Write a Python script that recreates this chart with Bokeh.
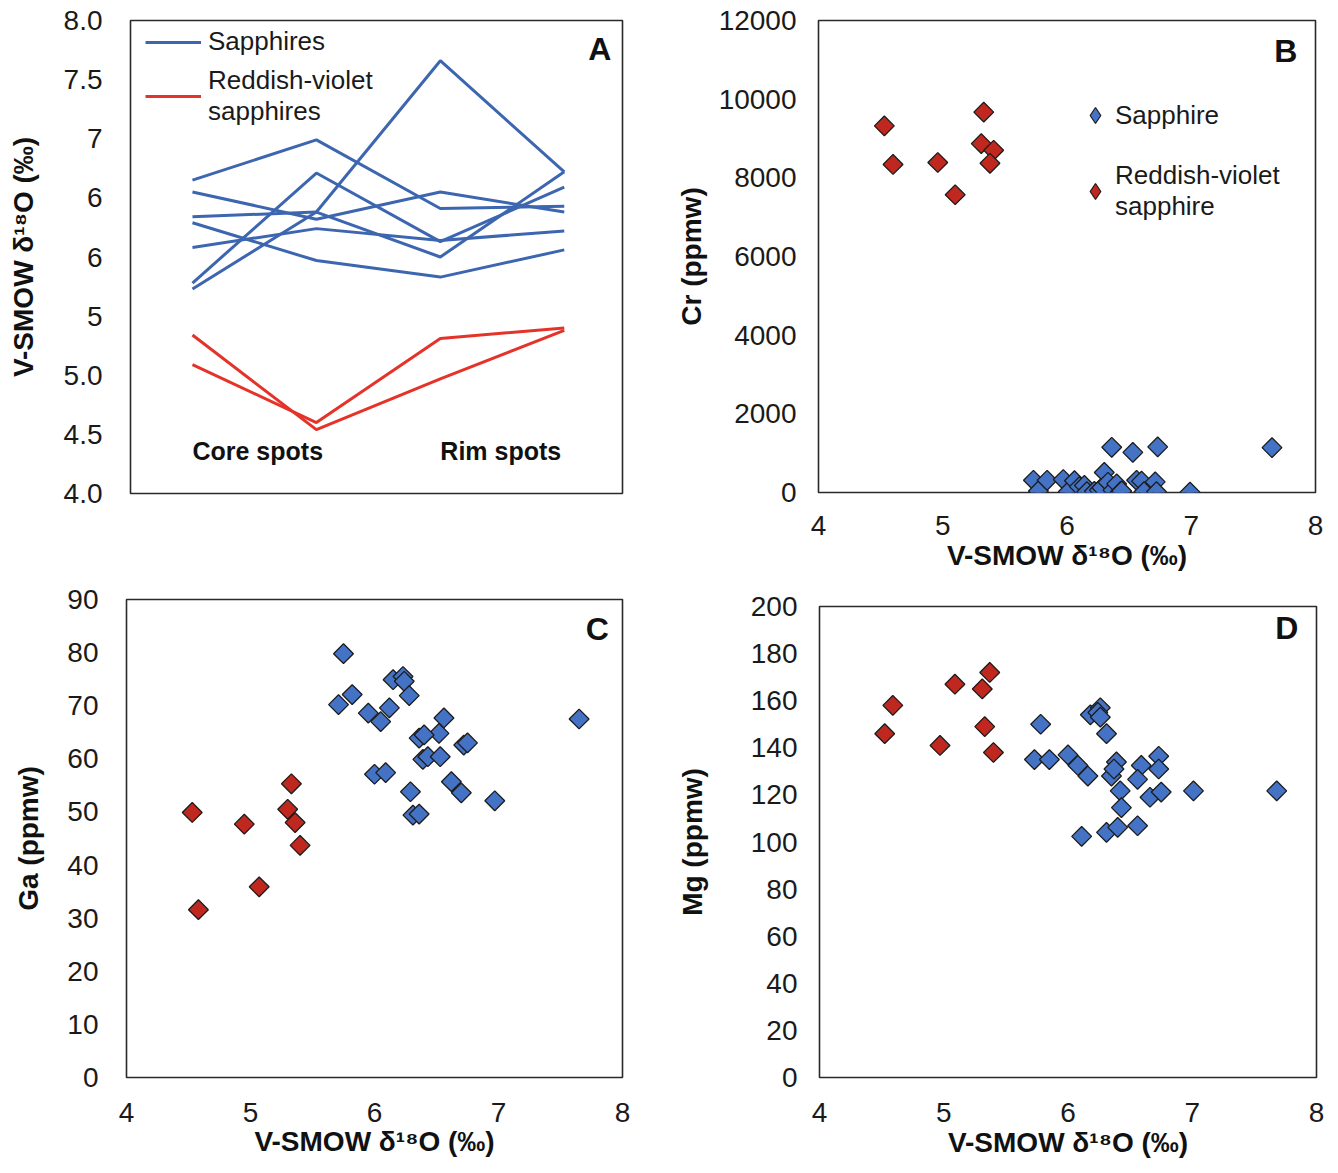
import math
from bokeh.plotting import figure
from bokeh.models import Range1d, FixedTicker, Legend, LegendItem, Label
from bokeh.layouts import row, column
from bokeh.embed import file_html
from bokeh.resources import INLINE
from bokeh.core.properties import value

FONT = "Liberation Sans"

# ---------------- Panel A data (core/rim oxygen isotope profiles) ----------------
spots = [1, 2, 3, 4]
spot_labels = ["Core spots", "Rim spots"]
spot_label_x = [1, 3]
spot_label_y = [4.36, 4.36]

sapphire_1 = [6.65, 6.99, 6.41, 6.43]
sapphire_2 = [6.55, 6.32, 6.55, 6.38]
sapphire_3 = [6.34, 6.38, 6.00, 6.72]
sapphire_4 = [6.29, 5.97, 5.83, 6.06]
sapphire_5 = [6.08, 6.24, 6.14, 6.22]
sapphire_6 = [5.78, 6.71, 6.13, 6.59]
sapphire_7 = [5.73, 6.38, 7.66, 6.72]
reddish_1 = [5.34, 4.54, 4.97, 5.38]
reddish_2 = [5.09, 4.60, 5.31, 5.40]

a_ticks = [4.0, 4.5, 5.0, 5.5, 6.0, 6.5, 7.0, 7.5, 8.0]
a_tick_labels = ["4.0", "4.5", "5.0", "5", "6", "6", "7", "7.5", "8.0"]

# ---------------- Panel B data (Cr) ----------------
b_sapph_d18O = [5.73, 5.77, 5.84, 5.97, 6.01, 6.06, 6.10, 6.14, 6.16, 6.22, 6.26, 6.28, 6.30, 6.33,
                6.36, 6.37, 6.40, 6.43, 6.44, 6.53, 6.56, 6.60, 6.62, 6.71, 6.72, 6.73, 6.99, 7.65]
b_sapph_cr = [310, 40, 310, 330, 20, 300, 150, 180, 20, 30, 60, 120, 510, 260,
              1150, 60, 220, 20, 40, 1020, 310, 290, 20, 270, 20, 1160, 10, 1140]
b_rv_d18O = [4.53, 4.60, 4.96, 5.10, 5.33, 5.31, 5.41, 5.38]
b_rv_cr = [9320, 8340, 8390, 7570, 9670, 8870, 8700, 8370]

# ---------------- Panel C data (Ga) ----------------
c_sapph_d18O = [5.75, 6.15, 6.23, 6.24, 6.28, 5.71, 5.82, 5.95, 6.12, 6.05, 6.56, 6.52, 6.36, 6.40,
                6.72, 6.75, 6.39, 6.43, 6.53, 6.00, 6.09, 6.29, 6.62, 6.70, 6.97, 6.31, 6.36, 7.65]
c_sapph_ga = [79.8, 74.9, 75.5, 74.6, 71.9, 70.2, 72.1, 68.6, 69.6, 67.0, 67.7, 64.8, 63.9, 64.5,
              62.6, 63.0, 59.9, 60.4, 60.4, 57.1, 57.4, 53.8, 55.7, 53.6, 52.1, 49.4, 49.6, 67.5]
c_rv_d18O = [4.53, 4.58, 4.95, 5.07, 5.33, 5.30, 5.36, 5.40]
c_rv_ga = [49.9, 31.6, 47.7, 35.9, 55.3, 50.5, 48.0, 43.7]

# ---------------- Panel D data (Mg) ----------------
d_sapph_d18O = [5.78, 6.18, 6.26, 6.24, 6.31, 5.73, 5.85, 6.00, 6.08, 6.16, 6.39, 6.35, 6.37, 6.59,
                6.56, 6.73, 6.73, 6.42, 6.66, 6.75, 7.01, 6.43, 6.11, 6.31, 6.40, 6.56, 7.68, 6.26]
d_sapph_mg = [150, 154, 157, 155, 146, 135, 135, 137, 132.5, 128, 134, 128, 131, 132.5,
              126.6, 136.4, 131, 121.7, 119, 121.2, 121.7, 114.6, 102.4, 104.1, 106.2, 106.9, 121.7, 153]
d_rv_d18O = [4.525, 4.59, 4.97, 5.09, 5.31, 5.37, 5.33, 5.40]
d_rv_mg = [146, 158, 141, 167, 165, 172, 149, 138]

x_ticks = [4, 5, 6, 7, 8]
x_title = "V-SMOW δ¹⁸O (‰)"

BLUE_LINE = "#3d66b0"
RED_LINE = "#e5332a"
BLUE_FILL = "#4472c4"
RED_FILL = "#c0281f"
EDGE = "#1c1c1c"
TXT = "#1a1a1a"


def make_fig(width, height, left, right, top, bottom, xr, yr):
    p = figure(width=width, height=height, x_range=Range1d(*xr), y_range=Range1d(*yr),
               output_backend="svg", toolbar_location=None,
               min_border_left=left, min_border_right=right,
               min_border_top=top, min_border_bottom=bottom)
    p.frame_align = False
    p.xgrid.visible = False
    p.ygrid.visible = False
    p.outline_line_color = "#2a2a2a"
    p.outline_line_width = 1.6
    p.outline_line_alpha = 1.0
    p.background_fill_color = "white"
    p.border_fill_color = "white"
    return p


def style_axis(ax, ticks, title, standoff, title_standoff):
    ax.ticker = FixedTicker(ticks=ticks)
    ax.axis_label = title
    ax.axis_label_text_font = FONT
    ax.axis_label_text_font_style = "bold"
    ax.axis_label_text_font_size = "28px"
    ax.axis_label_text_color = "#111111"
    ax.major_label_text_font = FONT
    ax.major_label_text_font_size = "28px"
    ax.major_label_text_color = TXT
    ax.axis_line_color = None
    ax.major_tick_line_color = None
    ax.minor_tick_line_color = None
    ax.major_tick_out = 0
    ax.major_tick_in = 0
    ax.minor_tick_out = 0
    ax.minor_tick_in = 0
    ax.major_label_standoff = standoff
    ax.axis_label_standoff = title_standoff


def panel_letter(p, text, x, y):
    p.add_layout(Label(x=x, y=y, text=text, text_font=FONT, text_font_style="bold",
                       text_font_size="32px", text_align="right", text_baseline="middle",
                       text_color="#111111"))


def scatter_panel(p, sx, sy, rx, ry):
    # plain diamonds (hidden under the rotated squares) that serve as legend swatches
    kb = p.scatter(sx, sy, marker="diamond", size=13, fill_color=BLUE_FILL,
                   line_color=EDGE, line_width=1.2)
    kr = p.scatter(rx, ry, marker="diamond", size=13, fill_color=RED_FILL,
                   line_color=EDGE, line_width=1.2)
    p.scatter(sx, sy, marker="square", angle=math.pi / 4, size=14,
              fill_color=BLUE_FILL, line_color=EDGE, line_width=1.3)
    p.scatter(rx, ry, marker="square", angle=math.pi / 4, size=14,
              fill_color=RED_FILL, line_color=EDGE, line_width=1.3)
    return kb, kr


# ---------------- Panel A ----------------
pA = make_fig(670, 580, 130, 48, 20, 87, (0.5, 4.47), (4.0, 8.0))
blue_profiles = [sapphire_1, sapphire_2, sapphire_3, sapphire_4, sapphire_5, sapphire_6, sapphire_7]
red_profiles = [reddish_1, reddish_2]
rA_blue = pA.multi_line([spots] * len(blue_profiles), blue_profiles, line_color=BLUE_LINE, line_width=3)
rA_red = pA.multi_line([spots] * len(red_profiles), red_profiles, line_color=RED_LINE, line_width=3)
pA.xaxis.visible = False
style_axis(pA.yaxis[0], a_ticks, x_title, 28, 22)
pA.yaxis[0].major_label_overrides = {t: l for t, l in zip(a_ticks, a_tick_labels)}
pA.text(spot_label_x, spot_label_y, text=spot_labels, text_font=value(FONT),
        text_font_style="bold", text_font_size="25px", text_align="left",
        text_baseline="middle", text_color="#111111")
legA = Legend(items=[LegendItem(label="Sapphires", renderers=[rA_blue]),
                     LegendItem(label="Reddish-violet\nsapphires", renderers=[rA_red])],
              location=(15, 366), label_text_font=FONT, label_text_font_size="26px",
              label_text_color=TXT, glyph_width=56, glyph_height=30, label_standoff=7,
              spacing=8, padding=4, margin=0, border_line_color=None,
              background_fill_alpha=0.0)
pA.add_layout(legA)
panel_letter(pA, "A", 4.38, 7.76)

# ---------------- Panel B ----------------
pB = make_fig(666, 580, 148, 21, 20, 88, (4, 8), (0, 12000))
kB_blue, kB_red = scatter_panel(pB, b_sapph_d18O, b_sapph_cr, b_rv_d18O, b_rv_cr)
style_axis(pB.xaxis[0], x_ticks, x_title, 23, 2)
style_axis(pB.yaxis[0], [0, 2000, 4000, 6000, 8000, 10000, 12000], "Cr (ppmw)", 22, 9)
legB = Legend(items=[LegendItem(label="Sapphire", renderers=[kB_blue]),
                     LegendItem(label="Reddish-violet\nsapphire", renderers=[kB_red])],
              location=(257, 270), label_text_font=FONT, label_text_font_size="26px",
              label_text_color=TXT, glyph_width=40, glyph_height=40, label_standoff=0,
              spacing=25, padding=4, margin=0, border_line_color=None,
              background_fill_alpha=0.0)
pB.add_layout(legB)
panel_letter(pB, "B", 7.855, 11237)

# ---------------- Panel C ----------------
pC = make_fig(670, 590, 126, 48, 19, 93, (4, 8), (0, 90))
scatter_panel(pC, c_sapph_d18O, c_sapph_ga, c_rv_d18O, c_rv_ga)
style_axis(pC.xaxis[0], x_ticks, x_title, 25, 1)
style_axis(pC.yaxis[0], list(range(0, 91, 10)), "Ga (ppmw)", 28, 20)
panel_letter(pC, "C", 7.89, 84.5)

# ---------------- Panel D ----------------
pD = make_fig(666, 590, 149, 20, 26, 93, (4, 8), (0, 200))
scatter_panel(pD, d_sapph_d18O, d_sapph_mg, d_rv_d18O, d_rv_mg)
style_axis(pD.xaxis[0], x_ticks, x_title, 25, 2)
style_axis(pD.yaxis[0], list(range(0, 201, 20)), "Mg (ppmw)", 22, 40)
panel_letter(pD, "D", 7.855, 190.7)

layout = column(row(pA, pB), row(pC, pD))
open("out.html", "w").write(file_html(layout, INLINE))
